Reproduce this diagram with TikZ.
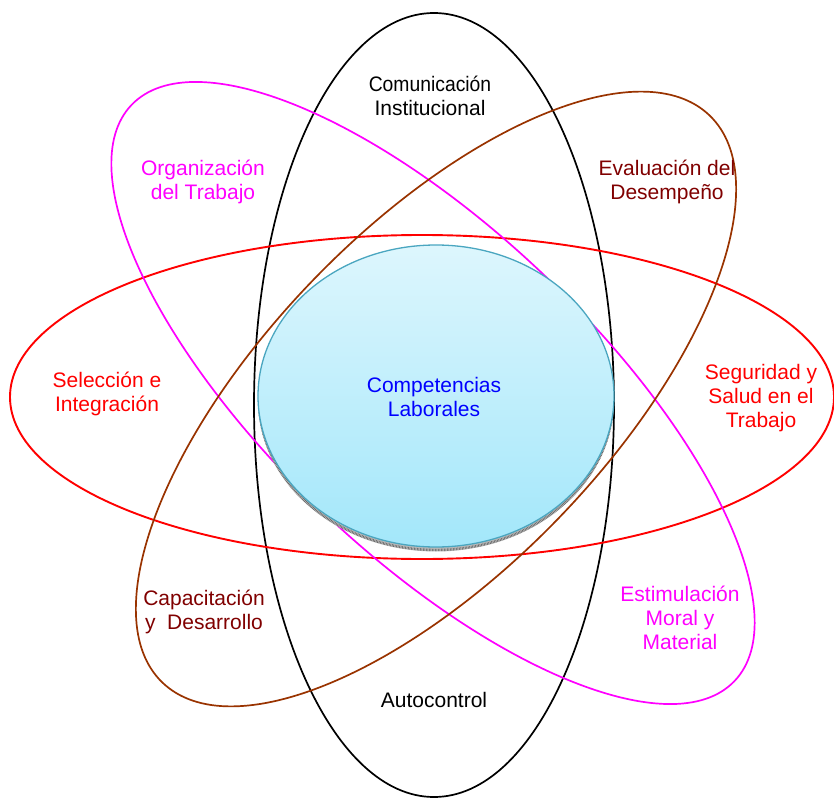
\documentclass[tikz,border=0pt]{standalone}
\usepackage{fontspec}
\setmainfont{Liberation Sans}
\definecolor{maroon}{HTML}{800000}
\definecolor{ringbrown}{HTML}{993300}
\definecolor{discTop}{HTML}{DDF6FD}
\definecolor{discBot}{HTML}{A3E7FA}
\definecolor{discEdge}{HTML}{4AA6C0}
\definecolor{txtblue}{HTML}{0000FF}
\definecolor{ringmag}{HTML}{FF00FF}
\begin{document}
\begin{tikzpicture}[x=1pt,y=-1pt,
  ring/.style={line width=1.7pt},
  lbl/.style={align=center,font=\fontsize{21}{24}\selectfont,inner sep=0pt}]
\useasboundingbox (0,0) rectangle (834,799);
% orbits
\draw[ring,black] (434,405) ellipse [x radius=180pt, y radius=392pt];
\draw[ring,red,line width=1.9pt] (422,397) ellipse [x radius=412pt, y radius=162pt];
\draw[ring,ringmag,rotate around={-43.7:(433,393)}] (433,393) ellipse [x radius=417pt, y radius=162pt];
\draw[ring,ringbrown,rotate around={46:(436,399)}] (436,399) ellipse [x radius=394pt, y radius=171pt];
% central disc with shaded rim
\fill[gray!55] (436,400.5) ellipse [x radius=178pt, y radius=151pt];
\draw[black!65,line width=2.4pt,dash pattern=on 0.5pt off 1pt] (436,400) ellipse [x radius=177pt, y radius=150pt];
\shade[top color=discTop,bottom color=discBot,draw=discEdge,line width=1.3pt] (436,396) ellipse [x radius=178pt, y radius=151pt];
% labels
\node[lbl,black] (com) at (430,96) {\scalebox{0.92}[1]{Comunicación}\\Institucional};
\node[lbl,ringmag] (org) at (203,182) {Organización\\del Trabajo};
\node[lbl,maroon] (eva) at (667,182) {Evaluación del\\Desempeño};
\node[lbl,red] (sel) at (107,394) {Selección e\\Integración};
\node[lbl,txtblue] (cl) at (434,397) {Competencias\\Laborales};
\node[lbl,red] (seg) at (761,398) {Seguridad y\\Salud en el\\Trabajo};
\node[lbl,maroon] (cap) at (204,612) {Capacitación\\y\ \ Desarrollo};
\node[lbl,ringmag] (est) at (680,618) {Estimulación\\Moral y\\Material};
\node[lbl,black] (aut) at (434,700) {Autocontrol};
\end{tikzpicture}
\end{document}
